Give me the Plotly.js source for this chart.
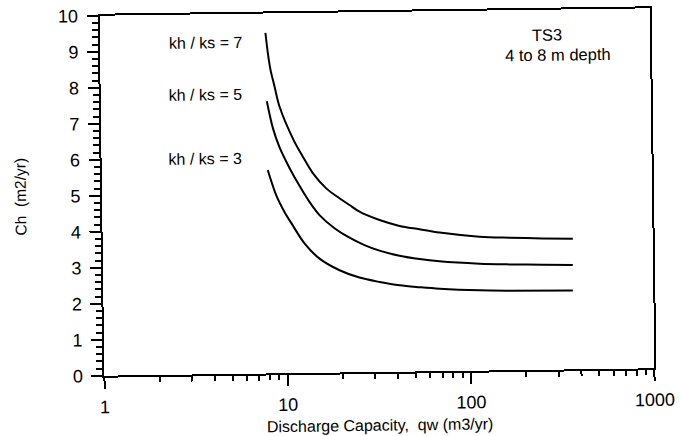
<!DOCTYPE html>
<html>
<head>
<meta charset="utf-8">
<script src="https://cdn.plot.ly/plotly-3.0.1.min.js"></script>
<style>
  html, body { margin: 0; padding: 0; background: #ffffff; }
  #wrap { width: 680px; height: 436px; transform: rotate(-0.77deg); transform-origin: 377px 192px; }
  #chart { width: 680px; height: 436px; }
</style>
</head>
<body>
<div id="wrap"><div id="chart"></div></div>
<script>
// Discharge capacity qw (m3/yr) and Ch (m2/yr) for each kh/ks ratio
const qw7 = [8.0, 8.22, 8.47, 8.89, 9.43, 11.18, 12.53, 14.17, 16.72, 19.72, 22.34, 25.3, 32.5, 41.7, 53.6, 68.9, 113.7, 165.7, 250.8, 367];
const ch7 = [9.46, 8.90, 8.44, 7.97, 7.41, 6.48, 6.01, 5.55, 5.12, 4.84, 4.65, 4.46, 4.22, 4.05, 3.95, 3.85, 3.72, 3.68, 3.65, 3.63];

const qw5 = [8.05, 8.64, 9.36, 10.58, 11.96, 13.52, 15.3, 18.43, 22.22, 26.79, 32.3, 41.5, 53.4, 68.5, 113.2, 165, 249.7, 365.4];
const ch5 = [7.56, 6.82, 6.28, 5.70, 5.20, 4.75, 4.38, 4.01, 3.74, 3.53, 3.37, 3.22, 3.12, 3.05, 2.97, 2.94, 2.92, 2.90];

const qw3 = [8.05, 8.91, 9.86, 10.75, 12.61, 15.2, 19.5, 25.0, 32.2, 41.3, 53.1, 68.2, 112.7, 164.3, 363.8];
const ch3 = [5.65, 4.95, 4.48, 4.16, 3.60, 3.17, 2.84, 2.63, 2.50, 2.40, 2.34, 2.29, 2.23, 2.21, 2.19];

const seriesLabels = ["kh / ks = 7", "kh / ks = 5", "kh / ks = 3"];
const xMajorTicks = [1, 10, 100, 1000];
const xMajorText = ["1", "10", "100", "1000"];
const xMinorTicks = [2, 3, 4, 5, 6, 7, 8, 9, 20, 30, 40, 50, 60, 70, 80, 90, 200, 300, 400, 500, 600, 700, 800, 900];
const yMajorTicks = [0, 1, 2, 3, 4, 5, 6, 7, 8, 9, 10];
const noteLines = ["TS3", "4 to 8 m depth"];

const font = "Arial, 'Liberation Sans', sans-serif";
const lineStyle = { color: "#000000", width: 2, shape: "spline", smoothing: 0.9 };

const traces = [
  { x: qw7, y: ch7, name: seriesLabels[0], mode: "lines", line: lineStyle, hoverinfo: "skip" },
  { x: qw5, y: ch5, name: seriesLabels[1], mode: "lines", line: lineStyle, hoverinfo: "skip" },
  { x: qw3, y: ch3, name: seriesLabels[2], mode: "lines", line: lineStyle, hoverinfo: "skip" }
];

const layout = {
  width: 680,
  height: 436,
  margin: { l: 102, r: 28, t: 12, b: 64 },
  paper_bgcolor: "#ffffff",
  plot_bgcolor: "#ffffff",
  showlegend: false,
  font: { family: font, color: "#000000" },
  xaxis: {
    type: "log",
    range: [0, 3],
    tickmode: "array",
    tickvals: xMajorTicks,
    ticktext: xMajorText,
    ticks: "outside",
    ticklen: 11,
    tickwidth: 2,
    tickcolor: "#000000",
    ticklabelstandoff: 3,
    tickfont: { size: 18, family: font, color: "#000000" },
    minor: { tickmode: "array", tickvals: xMinorTicks, ticks: "outside", ticklen: 5, tickwidth: 2, tickcolor: "#000000", showgrid: false },
    showline: true,
    linecolor: "#000000",
    linewidth: 2,
    mirror: true,
    showgrid: false,
    zeroline: false,
    title: { text: "Discharge Capacity,\u00A0 qw (m3/yr)", font: { size: 16, family: font, color: "#000000" }, standoff: 7 }
  },
  yaxis: {
    range: [0, 10],
    tickmode: "array",
    tickvals: yMajorTicks,
    ticks: "outside",
    ticklen: 11,
    tickwidth: 2,
    tickcolor: "#000000",
    ticklabelstandoff: 5,
    tickfont: { size: 18, family: font, color: "#000000" },
    minor: { dtick: 0.2, ticks: "outside", ticklen: 6, tickwidth: 2, tickcolor: "#000000", showgrid: false },
    showline: true,
    linecolor: "#000000",
    linewidth: 2,
    mirror: true,
    showgrid: false,
    zeroline: false,
    title: { text: "Ch\u00A0 (m2/yr)", font: { size: 15.5, family: font, color: "#000000" }, standoff: 30 }
  },
  annotations: [
    { text: seriesLabels[0], xref: "paper", yref: "paper", x: 0.192, y: 0.922, xanchor: "center", yanchor: "middle", showarrow: false, font: { size: 16, family: font, color: "#000000" } },
    { text: seriesLabels[1], xref: "paper", yref: "paper", x: 0.1905, y: 0.7766, xanchor: "center", yanchor: "middle", showarrow: false, font: { size: 16, family: font, color: "#000000" } },
    { text: seriesLabels[2], xref: "paper", yref: "paper", x: 0.189, y: 0.600, xanchor: "center", yanchor: "middle", showarrow: false, font: { size: 16, family: font, color: "#000000" } },
    { text: noteLines[0], xref: "paper", yref: "paper", x: 0.813, y: 0.931, xanchor: "center", yanchor: "middle", showarrow: false, font: { size: 16.5, family: font, color: "#000000" } },
    { text: noteLines[1], xref: "paper", yref: "paper", x: 0.832, y: 0.875, xanchor: "center", yanchor: "middle", showarrow: false, font: { size: 16.5, family: font, color: "#000000" } }
  ]
};

Plotly.newPlot("chart", traces, layout, { staticPlot: true, displayModeBar: false });
</script>
</body>
</html>
